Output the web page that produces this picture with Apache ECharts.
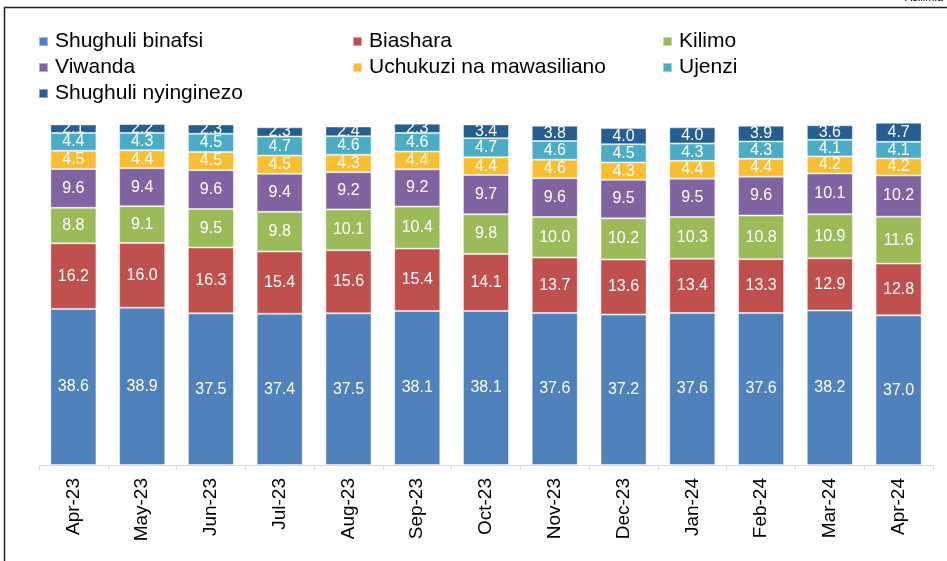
<!DOCTYPE html>
<html>
<head>
<meta charset="utf-8">
<script src="https://cdn.jsdelivr.net/npm/echarts@6/dist/echarts.min.js"></script>
<style>
  html, body { margin: 0; padding: 0; background: #fff; }
  #chart { width: 947px; height: 561px; }
</style>
</head>
<body>
<div id="chart"></div>
<script>
  // miezi
  const months = ['Apr-23', 'May-23', 'Jun-23', 'Jul-23', 'Aug-23', 'Sep-23', 'Oct-23',
                  'Nov-23', 'Dec-23', 'Jan-24', 'Feb-24', 'Mar-24', 'Apr-24'];

  const shughuliBinafsi = [38.6, 38.9, 37.5, 37.4, 37.5, 38.1, 38.1, 37.6, 37.2, 37.6, 37.6, 38.2, 37.0];
  const biashara        = [16.2, 16.0, 16.3, 15.4, 15.6, 15.4, 14.1, 13.7, 13.6, 13.4, 13.3, 12.9, 12.8];
  const kilimo          = [8.8, 9.1, 9.5, 9.8, 10.1, 10.4, 9.8, 10.0, 10.2, 10.3, 10.8, 10.9, 11.6];
  const viwanda         = [9.6, 9.4, 9.6, 9.4, 9.2, 9.2, 9.7, 9.6, 9.5, 9.5, 9.6, 10.1, 10.2];
  const uchukuzi        = [4.5, 4.4, 4.5, 4.5, 4.3, 4.4, 4.4, 4.6, 4.3, 4.4, 4.4, 4.2, 4.2];
  const ujenzi          = [4.4, 4.3, 4.5, 4.7, 4.6, 4.6, 4.7, 4.6, 4.5, 4.3, 4.3, 4.1, 4.1];
  const nyinginezo      = [2.1, 2.2, 2.3, 2.3, 2.4, 2.3, 3.4, 3.8, 4.0, 4.0, 3.9, 3.6, 4.7];

  const names  = ['Shughuli binafsi', 'Biashara', 'Kilimo', 'Viwanda',
                  'Uchukuzi na mawasiliano', 'Ujenzi', 'Shughuli nyinginezo'];
  const colors = ['#4F81BD', '#C0504D', '#9BBB59', '#8064A2', '#F9BE32', '#4BACC6', '#255E91'];
  const data   = [shughuliBinafsi, biashara, kilimo, viwanda, uchukuzi, ujenzi, nyinginezo];

  const font = '"Liberation Sans", Arial, Helvetica, sans-serif';

  const series = names.map((n, i) => ({
    name: n,
    type: 'bar',
    stack: 'total',
    barCategoryGap: '33%',
    data: data[i],
    itemStyle: { color: colors[i], borderColor: 'rgba(255,255,255,0.45)', borderWidth: 1 },
    label: {
      show: true,
      position: 'inside',
      color: '#fff',
      fontFamily: font,
      fontSize: 16,
      formatter: p => p.value.toFixed(1)
    }
  }));

  // legend ya safu tatu
  const legendBase = {
    orient: 'vertical',
    icon: 'rect',
    itemWidth: 9,
    itemHeight: 9,
    itemGap: 5,
    selectedMode: false,
    textStyle: { fontFamily: font, fontSize: 21, color: '#000', lineHeight: 21, padding: [0, 0, 0, 2] }
  };

  const option = {
    animation: false,
    color: colors,
    legend: [
      Object.assign({}, legendBase, { left: 33, top: 26, data: [names[0], names[3], names[6]] }),
      Object.assign({}, legendBase, { left: 347, top: 26, data: [names[1], names[4]] }),
      Object.assign({}, legendBase, { left: 657, top: 26, data: [names[2], names[5]] })
    ],
    grid: { left: 39, right: 14, top: 101, bottom: 96 },
    xAxis: {
      type: 'category',
      data: months,
      axisLine: { lineStyle: { color: '#D9D9D9', width: 1 } },
      axisTick: { show: true, length: 5, lineStyle: { color: '#D9D9D9' } },
      axisLabel: { rotate: 90, margin: 13, fontFamily: font, fontSize: 19, color: '#000' }
    },
    yAxis: {
      type: 'value',
      min: 0,
      max: 90,
      show: false
    },
    graphic: [
      {
        type: 'polyline',
        shape: { points: [[4.5, 580], [4.5, 7.5], [960, 7.5]] },
        style: { stroke: '#222', lineWidth: 1.5, fill: null }
      },
      {
        type: 'text',
        right: 4,
        top: -8,
        style: { text: 'Asilimia', font: '11px ' + font, fill: '#000' }
      }
    ],
    series: series
  };

  const chart = echarts.init(document.getElementById('chart'));
  chart.setOption(option);
</script>
</body>
</html>
